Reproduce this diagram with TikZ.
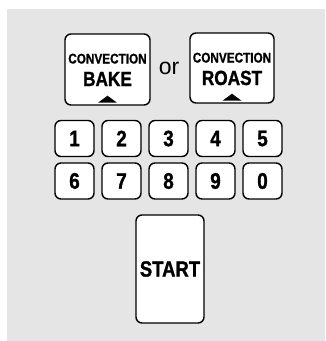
\documentclass[tikz,border=0pt]{standalone}
\usepackage{fontspec}
\setmainfont{Liberation Sans}
\newfontfamily\keyfont{Liberation Sans}[FakeStretch=0.84, FakeBold=1.2]
\begin{document}
\begin{tikzpicture}[x=1pt, y=-1pt,
	key/.style={draw, line width=1.4pt, fill=white, rounded corners=6pt, inner sep=0pt},
	numkey/.style={key, minimum width=39pt, minimum height=36pt, font=\keyfont\bfseries\fontsize{22.5}{23}\selectfont},
	small/.style={anchor=base, font=\keyfont\bfseries\fontsize{14}{14}\selectfont},
	big/.style={anchor=base, font=\keyfont\bfseries\fontsize{20.5}{21}\selectfont}]
	\useasboundingbox (0,0) rectangle (325,341);
	\fill[black!10] (7,9) rectangle (325,341);
	% mode keys
	\node[key, minimum width=85pt, minimum height=71pt] (bake) at (107.5,69.5) {};
	\node[small] (bakeconv) at (107.5,63.5) {CONVECTION};
	\node[big] (baketxt) at (107.5,86) {BAKE};
	\fill (bake.south) ++(-9.5,-3) -- ++(19,0) -- ++(-9.5,-7) -- cycle;
	\node[font=\fontsize{23}{23}\selectfont] (or) at (169,68) {or};
	\node[key, minimum width=84pt, minimum height=70pt] (roast) at (232,68) {};
	\node[small] (roastconv) at (232,62.5) {CONVECTION};
	\node[big] (roasttxt) at (232,85) {ROAST};
	\fill (roast.south) ++(-9.5,-3) -- ++(19,0) -- ++(-9.5,-7) -- cycle;
	% number pad
	\foreach \d [count=\i] in {1,2,3,4,5}
		\node[numkey] (k\d) at ({27.5+47*\i},138.5) {\d};
	\foreach \d [count=\i] in {6,7,8,9,0}
		\node[numkey] (k\d) at ({27.5+47*\i},181) {\d};
	\node[key, minimum width=68pt, minimum height=108pt, font=\keyfont\bfseries\fontsize{22}{22}\selectfont] (start) at (170,269) {START};
\end{tikzpicture}
\end{document}
